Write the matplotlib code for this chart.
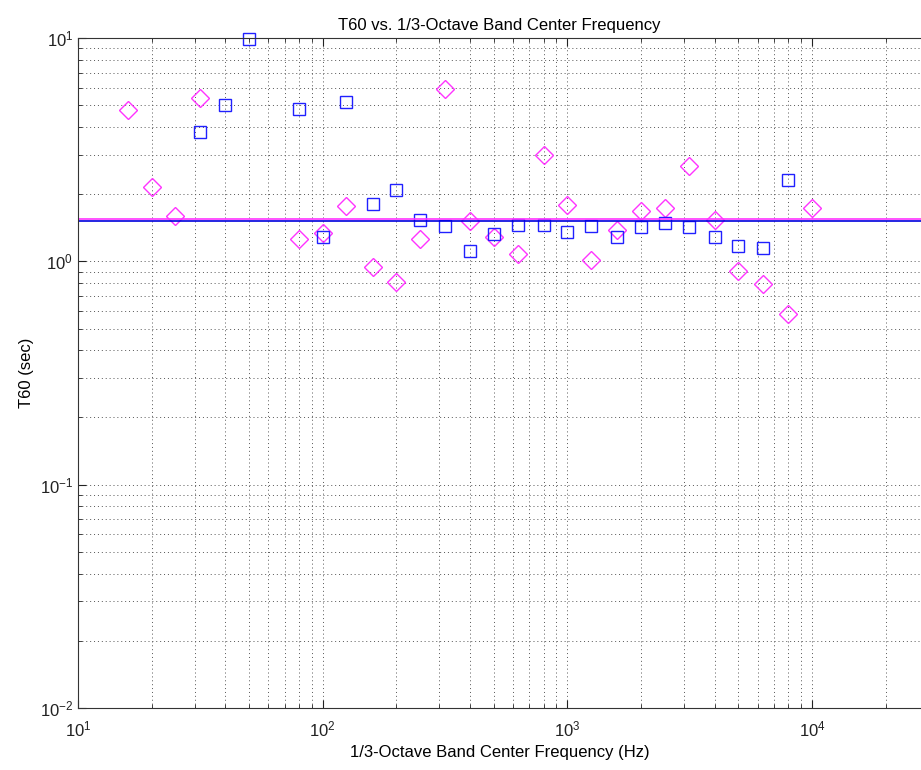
import numpy as np
import matplotlib
matplotlib.use('Agg')
import matplotlib.pyplot as plt

plt.rcParams['font.family'] = ['Liberation Sans', 'DejaVu Sans']
plt.rcParams['mathtext.fontset'] = 'custom'
plt.rcParams['mathtext.rm'] = 'Liberation Sans'
plt.rcParams['mathtext.it'] = 'Liberation Sans'
plt.rcParams['axes.unicode_minus'] = False

# 1/3-octave band centres and T60 values (sec)
freq_m = [16, 20, 25, 31.5, 80, 100, 125, 160, 200, 250, 315, 400, 500, 630,
          800, 1000, 1250, 1600, 2000, 2500, 3150, 4000, 5000, 6300, 8000, 10000]
t60_m = [4.78, 2.15, 1.60, 5.38, 1.26, 1.34, 1.77, 0.94, 0.81, 1.26, 5.91, 1.52,
         1.28, 1.08, 2.99, 1.79, 1.01, 1.38, 1.68, 1.73, 2.68, 1.53, 0.905, 0.79,
         0.58, 1.73]

freq_b = [31.5, 40, 50, 80, 100, 125, 160, 200, 250, 315, 400, 500, 630, 800,
          1000, 1250, 1600, 2000, 2500, 3150, 4000, 5000, 6300, 8000]
t60_b = [3.80, 5.01, 9.9, 4.81, 1.28, 5.17, 1.81, 2.09, 1.53, 1.44, 1.11, 1.33,
         1.46, 1.45, 1.35, 1.44, 1.29, 1.42, 1.48, 1.42, 1.28, 1.17, 1.15, 2.32]

mean_m = 1.55
mean_b = 1.51

fig = plt.figure(figsize=(9.21, 7.70), dpi=100)
ax = fig.add_axes([78 / 921, 62 / 770, 1 - 78 / 921, 670 / 770])

ax.plot(freq_m, t60_m, 'D', color='#ff33ff', mfc='none', markersize=9,
        mew=1.0, clip_on=False)
ax.plot(freq_b, t60_b, 's', color='#2020ff', mfc='none', markersize=8.5,
        mew=1.0, clip_on=False)
ax.axhline(mean_m, color='#ff33ff', lw=1.2)
ax.axhline(mean_b, color='#0000dd', lw=1.2)

ax.set_xscale('log')
ax.set_yscale('log')
ax.set_xlim(10, 10 ** (1 + (921 - 78) / 244.7))
ax.set_ylim(1e-2, 1e1)

ax.grid(True, which='both', color='#555555', linestyle=(0, (1, 3)), lw=0.7)
ax.tick_params(which='both', direction='in', top=True, right=False,
               labelsize=12, colors='#222222')
ax.tick_params(which='major', length=6)
ax.tick_params(which='minor', length=3)
ax.tick_params(axis='x', pad=8)
ax.spines['right'].set_visible(False)
for s in ['left', 'bottom', 'top']:
    ax.spines[s].set_color('#333333')

ax.set_title('T60 vs. 1/3-Octave Band Center Frequency', fontsize=12)
ax.set_xlabel('1/3-Octave Band Center Frequency (Hz)', fontsize=12)
ax.set_ylabel('T60 (sec)', fontsize=12)

fig.savefig('out.png', dpi=100)
